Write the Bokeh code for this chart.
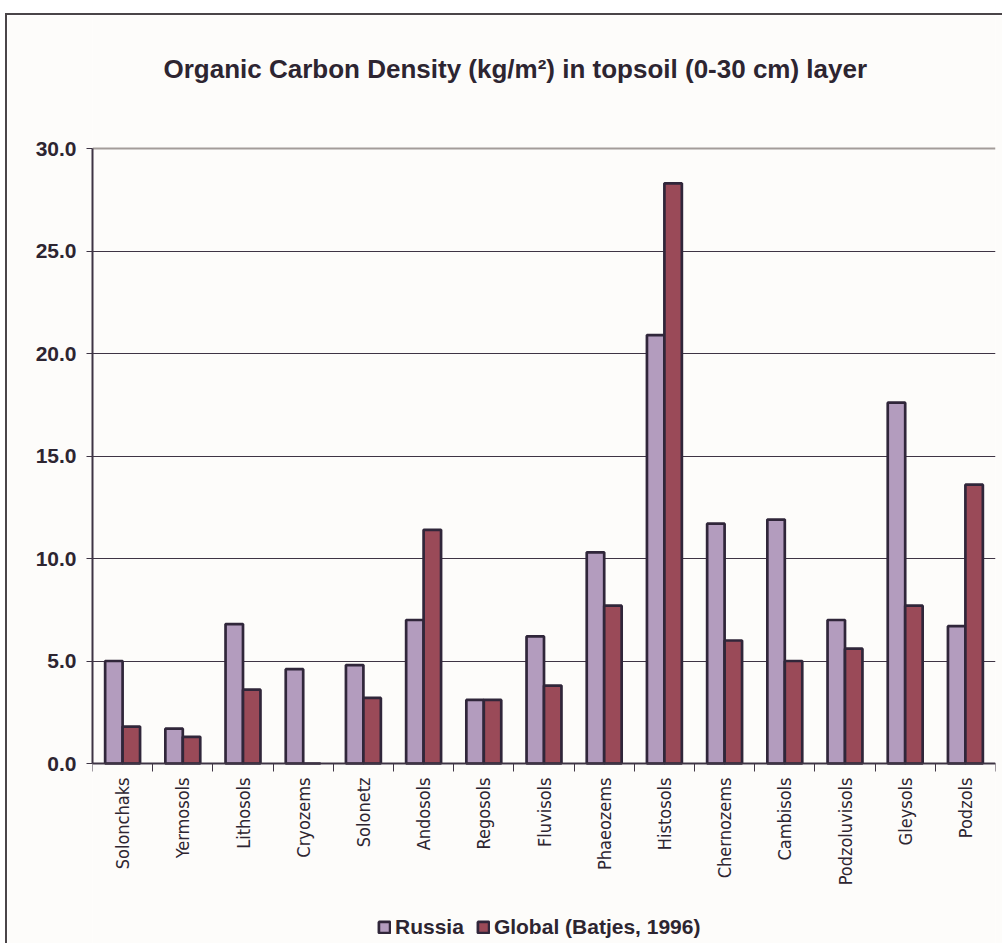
from bokeh.plotting import figure
from bokeh.models import (FixedTicker, PrintfTickFormatter, Legend, LegendItem,
                          ColumnDataSource, Range1d, Grid, Label)
from bokeh.transform import dodge
from bokeh.embed import file_html
from bokeh.resources import INLINE
import math

categories = ["Solonchaks", "Yermosols", "Lithosols", "Cryozems", "Solonetz", "Andosols",
              "Regosols", "Fluvisols", "Phaeozems", "Histosols", "Chernozems", "Cambisols",
              "Podzoluvisols", "Gleysols", "Podzols"]
russia = [5.0, 1.7, 6.8, 4.6, 4.8, 7.0, 3.1, 6.2, 10.3, 20.9, 11.7, 11.9, 7.0, 17.6, 6.7]
global_batjes = [1.8, 1.3, 3.6, 0.0, 3.2, 11.4, 3.1, 3.8, 7.7, 28.3, 6.0, 5.0, 5.6, 7.7, 13.6]
y_ticks = [0, 5, 10, 15, 20, 25, 30]

TEXT = "#2D2531"
DARK = "#3E3444"
GRAY = "#A39C99"
BG = "#FDFCFA"

Y_MAX = 30
# the frame fills the whole canvas height; room above 30 and below 0 holds the
# title, category labels and legend
PX_PER_UNIT = 615 / Y_MAX
Y_LOW = -182 / PX_PER_UNIT
Y_HIGH = Y_MAX + 133 / PX_PER_UNIT

centers = [i + 0.5 for i in range(len(categories))]
src = ColumnDataSource(dict(x=centers, russia=russia, glob=global_batjes))

p = figure(width=997, height=930, output_backend="svg", toolbar_location=None,
           x_range=Range1d(0, len(categories)), y_range=Range1d(Y_LOW, Y_HIGH),
           min_border_left=85, min_border_right=9, min_border_top=0, min_border_bottom=0,
           background_fill_color=BG, border_fill_color=BG,
           styles={"border-left": "2px solid #4a4548", "border-top": "2px solid #4a4548",
                   "margin-left": "5px", "margin-top": "13px"})

p.outline_line_color = None
p.title.visible = False

# grid lines
p.xgrid.grid_line_color = None
p.ygrid.grid_line_color = DARK
p.ygrid.grid_line_width = 1
p.ygrid.ticker = FixedTicker(ticks=y_ticks[:-1])
p.ygrid.bounds = (0, len(categories))
top_grid = Grid(dimension=1, ticker=FixedTicker(ticks=[Y_MAX]), grid_line_color=GRAY,
                grid_line_width=2)
right_grid = Grid(dimension=0, ticker=FixedTicker(ticks=[len(categories)]), grid_line_color=GRAY,
                  grid_line_width=2, bounds=(0, Y_MAX))
p.add_layout(top_grid)
p.add_layout(right_grid)

r1 = p.vbar(x=dodge("x", -0.145), top="russia", width=0.29, bottom=0, source=src,
            fill_color="#B39CBE", line_color="#30263A", line_width=2.7)
r2 = p.vbar(x=dodge("x", 0.145), top="glob", width=0.29, bottom=0, source=src,
            fill_color="#9A4A58", line_color="#30263A", line_width=2.7)

# y axis
yax = p.yaxis[0]
yax.ticker = FixedTicker(ticks=y_ticks)
yax.bounds = (0, Y_MAX)
yax.formatter = PrintfTickFormatter(format="%.1f")
yax.axis_line_color = DARK
yax.axis_line_width = 2
yax.major_tick_line_color = DARK
yax.major_tick_out = 6
yax.major_tick_in = 0
yax.minor_tick_line_color = None
yax.major_label_text_font = "Liberation Sans"
yax.major_label_text_font_style = "bold"
yax.major_label_text_font_size = "21px"
yax.major_label_text_color = TEXT
yax.major_label_standoff = 10

# x axis, drawn at y = 0
xax = p.xaxis[0]
xax.fixed_location = 0
xax.ticker = FixedTicker(ticks=centers, minor_ticks=list(range(len(categories) + 1)))
xax.major_label_overrides = {c: n for c, n in zip(centers, categories)}
xax.major_tick_line_color = None
xax.major_tick_out = 0
xax.major_tick_in = 0
xax.minor_tick_line_color = DARK
xax.minor_tick_out = 8
xax.minor_tick_in = 0
xax.axis_line_color = DARK
xax.axis_line_width = 2
xax.major_label_orientation = math.pi / 2
xax.major_label_text_font = "DejaVu Sans Condensed"
xax.major_label_text_font_size = "18px"
xax.major_label_text_color = TEXT
xax.major_label_standoff = 6

# title
title = Label(x=71, y=877, x_units="screen", y_units="screen",
              text="Organic Carbon Density (kg/m²) in topsoil (0-30 cm) layer",
              text_align="left", text_baseline="alphabetic",
              text_font="Liberation Sans", text_font_style="bold",
              text_font_size="26px", text_color=TEXT)
p.add_layout(title)

# legend
legend = Legend(items=[LegendItem(label="Russia", renderers=[r1]),
                       LegendItem(label="Global (Batjes, 1996)", renderers=[r2])],
                location=(285, 6), orientation="horizontal",
                background_fill_alpha=0, border_line_color=None,
                glyph_width=14, glyph_height=14, label_standoff=4, spacing=12,
                padding=0, margin=0,
                label_text_font="Liberation Sans", label_text_font_style="bold",
                label_text_font_size="21px", label_text_color=TEXT)
p.add_layout(legend, "center")

open("out.html", "w").write(file_html(p, INLINE))
